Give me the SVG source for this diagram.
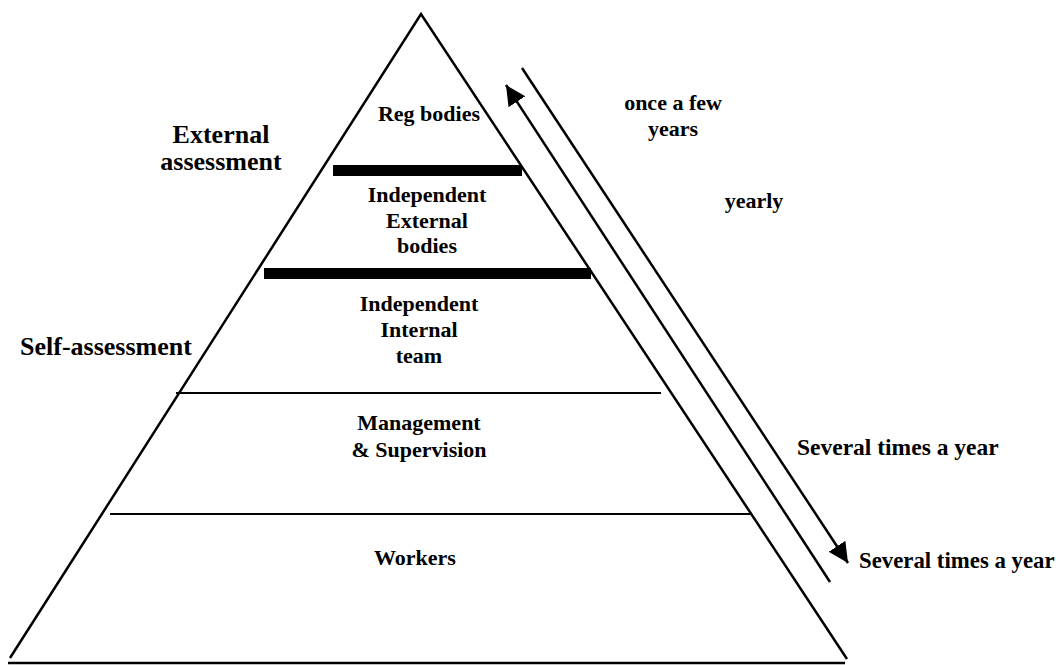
<svg xmlns="http://www.w3.org/2000/svg" width="1058" height="665" viewBox="0 0 1058 665">
<style>
text{font-family:"Liberation Serif","Times New Roman",serif;font-weight:bold;fill:#000}
.s{font-size:22px}
.l{font-size:26px}
.m{font-size:23.5px}
.m2{font-size:22.8px}
.edge{stroke:#000;stroke-width:2.5;fill:none}
.thin{stroke:#000;stroke-width:2}
.bar{fill:#000}
.conn{stroke:#000;stroke-width:2.5;fill:none}
</style>
<defs>
<marker id="ah" markerUnits="userSpaceOnUse" markerWidth="22" markerHeight="22" refX="20" refY="10" orient="auto">
<path d="M0,0 L20,10 L0,20 z" fill="#000"/>
</marker>
</defs>
<rect width="1058" height="665" fill="#fff"/>
<g id="pyramid">
<polyline class="edge" points="10,658 421,14 847,659"/>
<line class="edge" x1="8" y1="663" x2="845" y2="663"/>
<rect class="bar" x="333" y="165" width="189" height="11"/>
<rect class="bar" x="264" y="268" width="327" height="11"/>
<line class="thin" x1="176" y1="393" x2="661" y2="393"/>
<line class="thin" x1="110" y1="514" x2="752" y2="514"/>
</g>
<g id="reg-bodies"><text class="s" x="429" y="121" text-anchor="middle">Reg bodies</text></g>
<g id="independent-external"><text class="s" text-anchor="middle"><tspan x="427" y="202">Independent</tspan><tspan x="427" y="228">External</tspan><tspan x="427" y="253">bodies</tspan></text></g>
<g id="independent-internal"><text class="s" text-anchor="middle"><tspan x="419" y="311">Independent</tspan><tspan x="419" y="337">Internal</tspan><tspan x="419" y="363">team</tspan></text></g>
<g id="management"><text class="s" text-anchor="middle"><tspan x="419" y="430">Management</tspan><tspan x="419" y="457">&amp; Supervision</tspan></text></g>
<g id="workers"><text class="s" x="415" y="565" text-anchor="middle">Workers</text></g>
<g id="external-assessment"><text class="l" text-anchor="middle"><tspan x="221" y="143">External</tspan><tspan x="221" y="170">assessment</tspan></text></g>
<g id="self-assessment"><text class="l" x="20" y="355">Self-assessment</text></g>
<g id="freq-labels">
<text class="s" text-anchor="middle"><tspan x="673" y="110">once a few</tspan><tspan x="673" y="136">years</tspan></text>
<text class="s" x="754" y="208" text-anchor="middle">yearly</text>
<text class="m" x="797" y="455">Several times a year</text>
<text class="m2" x="859" y="568">Several times a year</text>
</g>
<g id="connectors">
<line class="conn" x1="830" y1="582" x2="506" y2="85" marker-end="url(#ah)"/>
<line class="conn" x1="522" y1="68" x2="848" y2="563" marker-end="url(#ah)"/>
</g>
</svg>
